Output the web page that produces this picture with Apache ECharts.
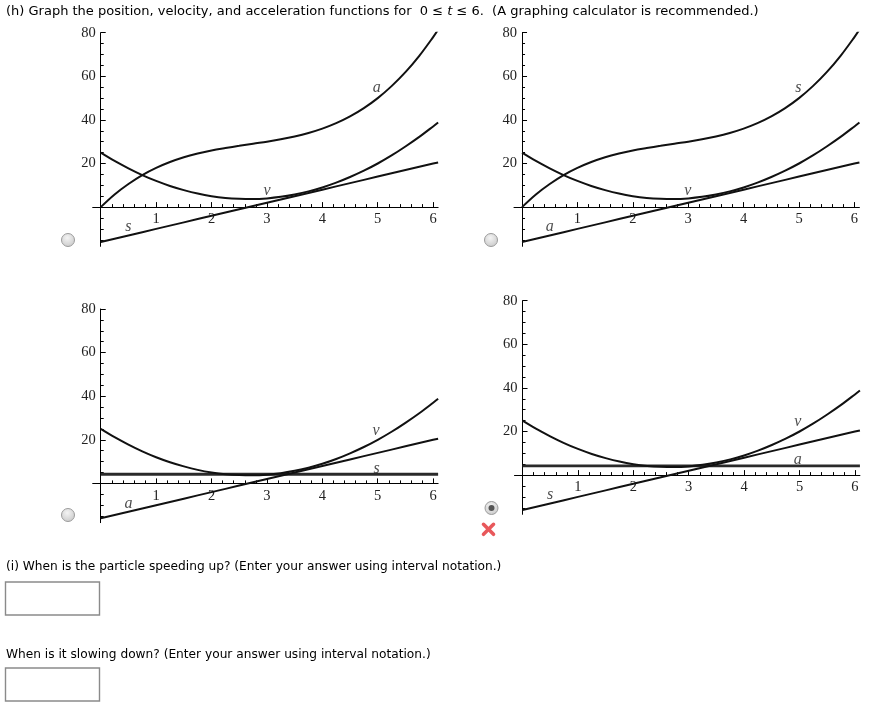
<!DOCTYPE html>
<html><head><meta charset="utf-8">
<script src="https://cdn.jsdelivr.net/npm/echarts@6/dist/echarts.min.js"></script>
<style>html,body{margin:0;padding:0;background:#fff}#chart{width:878px;height:720px}</style>
</head><body><div id="chart"></div>
<script>
// ---- data ----
const tValues = [0,0.25,0.5,0.75,1,1.25,1.5,1.75,2,2.25,2.5,2.75,3,3.25,3.5,3.75,4,4.25,4.5,4.75,5,5.25,5.5,5.75,6,6.09];
const cubicCurve = [0,5.8,10.6,14.7,18,20.7,22.9,24.6,26,27.1,28.1,29.1,30,31.1,32.4,34,36,38.5,41.6,45.4,50,55.5,61.9,69.4,78,81.4];
const parabolaCurve = [25,21.2,17.8,14.7,12,9.7,7.8,6.2,5,4.2,3.8,3.7,4,4.7,5.8,7.2,9,11.2,13.8,16.7,20,23.7,27.8,32.2,37,38.8];
const straightLine = [-16,-14.5,-13,-11.5,-10,-8.5,-7,-5.5,-4,-2.5,-1,0.5,2,3.5,5,6.5,8,9.5,11,12.5,14,15.5,17,18.5,20,20.5];
const flatT = [0, 6.09];
const flatLine = [4.2, 4.2];
const xTickLabels = [1,2,3,4,5,6];
const yTickLabels = [20,40,60,80];
const yMajorTicks = [0,20,40,60,80];
const yMinorTicks = [-15,-10,-5,5,10,15,25,30,35,45,50,55,65,70,75];
const xMinorTicks = [];
for (let k = 1; k <= 30; k++) { if (k % 5 !== 0) xMinorTicks.push(+(k * 0.2).toFixed(1)); }
// curve name labels per panel: [text, t, value]
const panelLabels = [
  [['a',4.98,54.6],['v',3.0,7.4],['s',0.5,-8.9]],
  [['s',4.99,54.6],['v',2.99,7.6],['a',0.5,-9.2]],
  [['v',4.97,24.1],['s',4.98,6.9],['a',0.5,-9.2]],
  [['v',4.97,24.6],['a',4.97,7.0],['s',0.5,-9.0]]
];
const panelHasCubic = [true, true, false, false];

// ---- layout ----
const panelPos = [[92.7,32.7],[514,32.7],[92.7,309],[514.5,300.7]];
const X_MIN = -0.145, X_MAX = 6.09, Y_MIN = -18, Y_MAX = 80;
const PX_T = 55.4, PX_Y = 2.18;
const GW = (X_MAX - X_MIN) * PX_T, GH = (Y_MAX - Y_MIN) * PX_Y;
const X_AXIS_OFFSET = -(0 - Y_MIN) * PX_Y;   // move x axis up to value 0
const Y_AXIS_OFFSET = -(0 - X_MIN) * PX_T;   // move y axis right to t = 0

const serif = 'Liberation Serif';
const grid = [], xAxis = [], yAxis = [], series = [];
panelPos.forEach((p, g) => {
  grid.push({left: p[0], top: p[1], width: GW, height: GH});
  const common = {type:'value', gridIndex:g, min:X_MIN, max:X_MAX, position:'bottom', offset:X_AXIS_OFFSET, splitLine:{show:false}};
  xAxis.push(Object.assign({}, common, {
    axisLine:{show:true, onZero:false, lineStyle:{color:'#000', width:1}},
    axisTick:{show:true, inside:true, length:5, customValues:xTickLabels, lineStyle:{color:'#000'}},
    axisLabel:{show:true, customValues:xTickLabels, margin:5, fontFamily:serif, fontSize:14.5, color:'#222'}
  }));
  xAxis.push(Object.assign({}, common, {
    axisLine:{show:false, onZero:false},
    axisTick:{show:true, inside:true, length:3, customValues:xMinorTicks, lineStyle:{color:'#000'}},
    axisLabel:{show:false}
  }));
  const ycommon = {type:'value', gridIndex:g, min:Y_MIN, max:Y_MAX, position:'left', offset:Y_AXIS_OFFSET, splitLine:{show:false}};
  yAxis.push(Object.assign({}, ycommon, {
    axisLine:{show:true, onZero:false, lineStyle:{color:'#000', width:1}},
    axisTick:{show:true, inside:true, length:5, customValues:yMajorTicks, lineStyle:{color:'#000'}},
    axisLabel:{show:true, customValues:yTickLabels, margin:5, fontFamily:serif, fontSize:14.5, color:'#222'}
  }));
  yAxis.push(Object.assign({}, ycommon, {
    axisLine:{show:false, onZero:false},
    axisTick:{show:true, inside:true, length:3, customValues:yMinorTicks, lineStyle:{color:'#000'}},
    axisLabel:{show:false}
  }));
  const lineBase = {type:'line', xAxisIndex:2*g, yAxisIndex:2*g, showSymbol:false, symbol:'none', silent:true, animation:false};
  if (panelHasCubic[g]) {
    series.push(Object.assign({}, lineBase, {smooth:0.35, data:tValues.map((t,i)=>[t,cubicCurve[i]]), lineStyle:{color:'#111', width:2}}));
  } else {
    series.push(Object.assign({}, lineBase, {data:flatT.map((t,i)=>[t,flatLine[i]]), lineStyle:{color:'#2a2a2a', width:2.8}}));
  }
  series.push(Object.assign({}, lineBase, {smooth:0.35, data:tValues.map((t,i)=>[t,parabolaCurve[i]]), lineStyle:{color:'#111', width:2}}));
  series.push(Object.assign({}, lineBase, {data:tValues.map((t,i)=>[t,straightLine[i]]), lineStyle:{color:'#111', width:2}}));
  series.push({type:'scatter', xAxisIndex:2*g, yAxisIndex:2*g, symbolSize:1, silent:true, animation:false,
    itemStyle:{color:'rgba(0,0,0,0)'},
    data: panelLabels[g].map(l => [l[1], l[2], l[0]]),
    label:{show:true, position:'inside', formatter: p => p.data[2], fontFamily:serif, fontStyle:'italic', fontSize:16, color:'#222'}
  });
});

function radio(cx, cy, selected) {
  const els = [{type:'circle', shape:{cx, cy, r:6.5}, style:{
    fill:{type:'radial', x:0.45, y:0.35, r:0.75, colorStops:[{offset:0,color:'#f4f4f4'},{offset:1,color:'#c4c4c4'}]},
    stroke:'#9c9c9c', lineWidth:1}}];
  if (selected) els.push({type:'circle', shape:{cx, cy, r:3}, style:{fill:'#555'}});
  return els;
}
const sans = 'DejaVu Sans';
const graphic = [
  {type:'text', x:6, y:12, style:{text:'(h) Graph the position, velocity, and acceleration functions for  0 ≤ {i|t} ≤ 6.  (A graphing calculator is recommended.)',
    fontFamily:sans, fontSize:13, fill:'#000', verticalAlign:'middle', rich:{i:{fontStyle:'italic', fontFamily:sans, fontSize:13, fill:'#000'}}}},
  {type:'text', x:6, y:567, style:{text:'(i) When is the particle speeding up? (Enter your answer using interval notation.)', fontFamily:sans, fontSize:12.2, fill:'#000', verticalAlign:'middle'}},
  {type:'text', x:6, y:655, style:{text:'When is it slowing down? (Enter your answer using interval notation.)', fontFamily:sans, fontSize:12.2, fill:'#000', verticalAlign:'middle'}},
  {type:'rect', shape:{x:5.5, y:582, width:94, height:33}, style:{fill:'#fff', stroke:'#8a8a8a', lineWidth:1.4}},
  {type:'rect', shape:{x:5.5, y:668, width:94, height:33}, style:{fill:'#fff', stroke:'#8a8a8a', lineWidth:1.4}},
  ...radio(68, 240, false), ...radio(491, 240, false), ...radio(68, 515, false), ...radio(491.5, 508, true),
  {type:'line', shape:{x1:483.5, y1:524.3, x2:493.5, y2:534.3}, style:{stroke:'#e8585b', lineWidth:3.6, lineCap:'round'}},
  {type:'line', shape:{x1:493.5, y1:524.3, x2:483.5, y2:534.3}, style:{stroke:'#e8585b', lineWidth:3.6, lineCap:'round'}}
];

const chart = echarts.init(document.getElementById('chart'), null, {renderer:'canvas'});
chart.setOption({backgroundColor:'#fff', animation:false, grid, xAxis, yAxis, series, graphic});
</script></body></html>
